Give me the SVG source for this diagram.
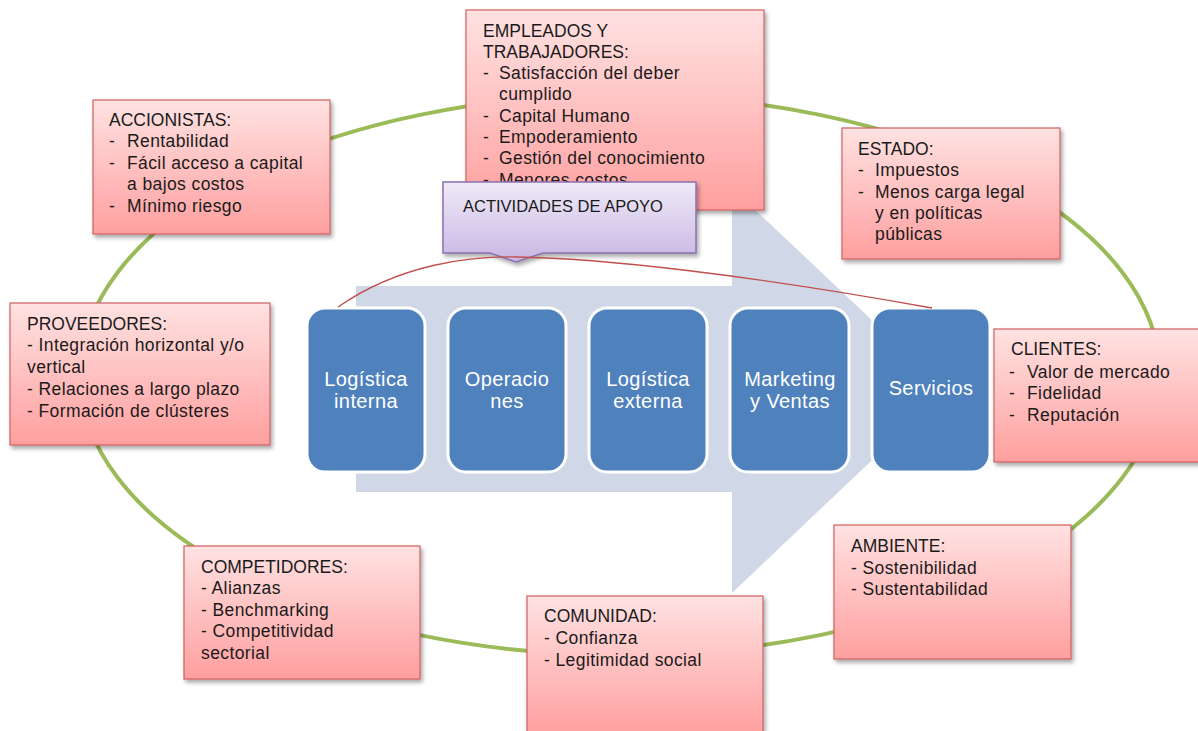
<svg xmlns="http://www.w3.org/2000/svg" width="1198" height="731" viewBox="0 0 1198 731">
<defs>
<linearGradient id="pink" x1="0" y1="0" x2="0" y2="1">
<stop offset="0" stop-color="#ffe2e2"/>
<stop offset="1" stop-color="#ff9f9f"/>
</linearGradient>
<linearGradient id="lilac" x1="0" y1="0" x2="0" y2="1">
<stop offset="0" stop-color="#efeaf7"/>
<stop offset="1" stop-color="#c9b6e4"/>
</linearGradient>
<filter id="sh" x="-10%" y="-10%" width="125%" height="130%">
<feDropShadow dx="2" dy="3" stdDeviation="2" flood-color="#000" flood-opacity="0.35"/>
</filter>
</defs>
<style>
.box{fill:url(#pink);stroke:#cf5f5f;stroke-width:1.2;filter:url(#sh)}
.t{font-family:"Liberation Sans",Arial,sans-serif;font-size:17.5px;fill:#1a1a1a}
.b{letter-spacing:0.4px}
.blue{fill:#4f81bd;stroke:#ffffff;stroke-width:3}
.bt{font-family:"Liberation Sans",Arial,sans-serif;font-size:20px;fill:#ffffff;text-anchor:middle;letter-spacing:0.4px}
</style>
<rect width="1198" height="731" fill="#ffffff"/>
<g id="ring">
<ellipse cx="620" cy="375" rx="540" ry="280" fill="none" stroke="#9bbb59" stroke-width="4"/>
</g>
<g id="arrow">
<polygon points="356,286 732,286 732,188 946,390 732,593 732,492 356,492" fill="#d0d8e7"/>
</g>
<g id="logistica-interna">
<rect class="blue" x="307" y="308" width="118" height="164" rx="18"/>
<text class="bt" x="366" y="386">Logística</text>
<text class="bt" x="366" y="408">interna</text>
</g>
<g id="operaciones">
<rect class="blue" x="448" y="308" width="118" height="164" rx="18"/>
<text class="bt" x="507" y="386">Operacio</text>
<text class="bt" x="507" y="408">nes</text>
</g>
<g id="logistica-externa">
<rect class="blue" x="589" y="308" width="118" height="164" rx="18"/>
<text class="bt" x="648" y="386">Logística</text>
<text class="bt" x="648" y="408">externa</text>
</g>
<g id="marketing">
<rect class="blue" x="730" y="308" width="119" height="164" rx="18"/>
<text class="bt" x="790" y="386">Marketing</text>
<text class="bt" x="790" y="408">y Ventas</text>
</g>
<g id="servicios">
<rect class="blue" x="872" y="308" width="118" height="164" rx="18"/>
<text class="bt" x="931" y="395">Servicios</text>
</g>
<g id="accionistas">
<rect class="box" x="93" y="100" width="237" height="134"/>
<text class="t"><tspan x="109" y="126">ACCIONISTAS:</tspan></text>
<text class="t b"><tspan x="109" y="147">-</tspan><tspan x="127" y="147">Rentabilidad</tspan><tspan x="109" y="169">-</tspan><tspan x="127" y="169">Fácil acceso a capital</tspan><tspan x="127" y="190">a bajos costos</tspan><tspan x="109" y="212">-</tspan><tspan x="127" y="212">Mínimo riesgo</tspan></text>
</g>
<g id="empleados">
<rect class="box" x="466" y="10" width="298" height="200"/>
<text class="t"><tspan x="483" y="37">EMPLEADOS Y</tspan><tspan x="483" y="58">TRABAJADORES:</tspan></text>
<text class="t b"><tspan x="483" y="79">-</tspan><tspan x="499" y="79">Satisfacción del deber</tspan><tspan x="499" y="100">cumplido</tspan><tspan x="483" y="122">-</tspan><tspan x="499" y="122">Capital Humano</tspan><tspan x="483" y="143">-</tspan><tspan x="499" y="143">Empoderamiento</tspan><tspan x="483" y="164">-</tspan><tspan x="499" y="164">Gestión del conocimiento</tspan><tspan x="483" y="186">-</tspan><tspan x="499" y="186">Menores costos</tspan></text>
</g>
<g id="estado">
<rect class="box" x="842" y="128" width="218" height="131"/>
<text class="t"><tspan x="858" y="155">ESTADO:</tspan></text>
<text class="t b"><tspan x="858" y="176">-</tspan><tspan x="875" y="176">Impuestos</tspan><tspan x="858" y="198">-</tspan><tspan x="875" y="198">Menos carga legal</tspan><tspan x="875" y="219">y en políticas</tspan><tspan x="875" y="240">públicas</tspan></text>
</g>
<g id="proveedores">
<rect class="box" x="10" y="303" width="260" height="142"/>
<text class="t"><tspan x="27" y="330">PROVEEDORES:</tspan></text>
<text class="t b"><tspan x="27" y="351">- Integración horizontal y/o</tspan><tspan x="27" y="373">vertical</tspan><tspan x="27" y="395">- Relaciones  a largo plazo</tspan><tspan x="27" y="417">- Formación de clústeres</tspan></text>
</g>
<g id="clientes">
<rect class="box" x="994" y="329" width="216" height="133"/>
<text class="t"><tspan x="1011" y="355">CLIENTES:</tspan></text>
<text class="t b"><tspan x="1009" y="378">-</tspan><tspan x="1027" y="378">Valor de mercado</tspan><tspan x="1009" y="399">-</tspan><tspan x="1027" y="399">Fidelidad</tspan><tspan x="1009" y="421">-</tspan><tspan x="1027" y="421">Reputación</tspan></text>
</g>
<g id="competidores">
<rect class="box" x="184" y="546" width="236" height="133"/>
<text class="t"><tspan x="201" y="573">COMPETIDORES:</tspan></text>
<text class="t b"><tspan x="201" y="594">- Alianzas</tspan><tspan x="201" y="616">- Benchmarking</tspan><tspan x="201" y="637">- Competitividad</tspan><tspan x="201" y="659">sectorial</tspan></text>
</g>
<g id="comunidad">
<rect class="box" x="527" y="596" width="236" height="140"/>
<text class="t"><tspan x="544" y="622">COMUNIDAD:</tspan></text>
<text class="t b"><tspan x="544" y="644">- Confianza</tspan><tspan x="544" y="666">- Legitimidad social</tspan></text>
</g>
<g id="ambiente">
<rect class="box" x="834" y="525" width="237" height="134"/>
<text class="t"><tspan x="851" y="552">AMBIENTE:</tspan></text>
<text class="t b"><tspan x="851" y="574">- Sostenibilidad</tspan><tspan x="851" y="595">- Sustentabilidad</tspan></text>
</g>
<g id="actividades-de-apoyo">
<path d="M443,182 H696 V253 H543 L516,262 L490,253 H443 Z" fill="url(#lilac)" stroke="#8a70b0" stroke-width="1.5" filter="url(#sh)"/>
<text class="t" style="font-size:16.5px" x="463" y="212">ACTIVIDADES DE APOYO</text>
</g>
<g id="connectors">
<path d="M338,307 C400,264 470,256 517,257 C600,258 750,275 932,308" fill="none" stroke="#c0504d" stroke-width="1.3"/>
</g>
</svg>
